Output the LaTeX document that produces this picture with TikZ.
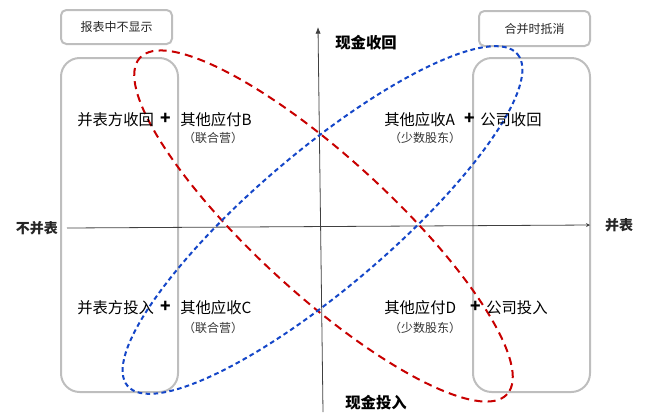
\documentclass[tikz,border=0pt]{standalone}
\usepackage{fontspec}
\setmainfont{Liberation Sans}
\newfontfamily\cjk{Noto Sans CJK SC}
\usetikzlibrary{arrows.meta}
\definecolor{boxgray}{RGB}{190,190,190}
\definecolor{ellred}{RGB}{200,0,0}
\definecolor{ellblue}{RGB}{20,70,200}
\begin{document}
\begin{tikzpicture}[x=0.75pt,y=-0.75pt,
  tagbox/.style={draw=boxgray,line width=1.5pt,rounded corners=4pt},
  colbox/.style={draw=boxgray,line width=1.5pt,rounded corners=14pt},
  axisline/.style={draw=black!75,line width=0.6pt},
  maintext/.style={font=\cjk\fontsize{11.5pt}{13pt}\selectfont,inner sep=0pt,anchor=west},
  subtext/.style={font=\cjk\fontsize{9pt}{11pt}\selectfont,inner sep=0pt,text=black!80},
  plus/.style={font=\cjk\bfseries\fontsize{13pt}{14pt}\selectfont,inner sep=0pt},
  axislabel/.style={font=\cjk\bfseries\fontsize{11.5pt}{13pt}\selectfont,inner sep=0pt},
  sidelabel/.style={font=\cjk\bfseries\fontsize{10.5pt}{13pt}\selectfont,inner sep=0pt,text=black!85},
  taglabel/.style={font=\cjk\fontsize{9pt}{11pt}\selectfont,inner sep=0pt,text=black!85},
  redell/.style={draw=ellred,line width=1.5pt,dash pattern=on 6pt off 4pt},
  blueell/.style={draw=ellblue,line width=1.5pt,dash pattern=on 3.5pt off 2.5pt}]
\useasboundingbox (0,0) rectangle (646,412);
% tag boxes
\node[tagbox,minimum width=83.25pt,minimum height=25.5pt,anchor=north west] (tagL) at (60,9) {};
\node[taglabel] (tagLt) at (tagL.center) {报表中不显示};
\node[tagbox,minimum width=83.25pt,minimum height=26.25pt,anchor=north west] (tagR) at (478,10) {};
\node[taglabel] (tagRt) at (tagR.center) {合并时抵消};
% column boxes
\node[colbox,minimum width=87.75pt,minimum height=250.5pt,anchor=north west] (colL) at (60,57) {};
\node[colbox,minimum width=87.75pt,minimum height=250.5pt,anchor=north west] (colR) at (472,57) {};
% axes
\coordinate (vtop) at (318,27);
\coordinate (vbot) at (323,412);
\coordinate (hl) at (67,228);
\coordinate (hr) at (590,225);
\draw[axisline,-{Latex[length=5pt,width=4pt]}] (vbot) -- (vtop);
\draw[axisline,-{Stealth[length=3pt,width=3pt]}] (hl) -- (hr);
\node[axislabel] (cin) at (366,43) {现金收回};
\node[axislabel] (cout) at (376,403) {现金投入};
\node[sidelabel] (nc) at (37,228) {不并表};
\node[sidelabel] (cc) at (619,225) {并表};
% ellipses
\draw[redell,rotate around={-42.5:(323.5,226)}] (323.5,226) ellipse [x radius=249, y radius=68];
\draw[blueell,rotate around={40.4:(322.5,220)}] (322.5,220) ellipse [x radius=256, y radius=68];
% quadrant texts
\node[maintext] (q1a) at (77,120) {并表方收回};
\node[plus] (q1p) at (166,119) {+};
\node[maintext] (q1b) at (180,120) {其他应付B};
\node[subtext] (q1s) at (213,138) {（联合营）};
\node[maintext] (q2a) at (384,120) {其他应收A};
\node[plus] (q2p) at (470,119) {+};
\node[maintext] (q2b) at (480,120) {公司收回};
\node[subtext] (q2s) at (425,138) {（少数股东）};
\node[maintext] (q3a) at (77,308) {并表方投入};
\node[plus] (q3p) at (166,307) {+};
\node[maintext] (q3b) at (180,308) {其他应收C};
\node[subtext] (q3s) at (213,328) {（联合营）};
\node[maintext] (q4a) at (384,308) {其他应付D};
\node[plus] (q4p) at (476,307) {+};
\node[maintext] (q4b) at (486,308) {公司投入};
\node[subtext] (q4s) at (425,328) {（少数股东）};
\end{tikzpicture}
\end{document}
